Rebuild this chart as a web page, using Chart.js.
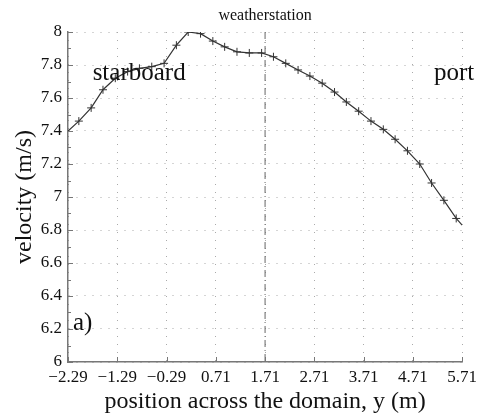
<!DOCTYPE html>
<html>
<head>
<meta charset="utf-8">
<script src="https://cdn.jsdelivr.net/npm/chart.js@4"></script>
<style>
  html, body { margin: 0; padding: 0; background: #fff; }
  #wrap { width: 482px; height: 416px; }
</style>
</head>
<body>
<div id="wrap"><canvas id="chartVelocity"></canvas></div>
<script>
// position across the domain (m) and velocity (m/s)
const positions = [-2.29, -2.07, -1.82, -1.58, -1.33, -1.08, -0.84, -0.59, -0.34, -0.09, 0.15,
    0.40, 0.65, 0.89, 1.14, 1.39, 1.64, 1.88, 2.13, 2.38, 2.62, 2.87, 3.12, 3.36, 3.61,
    3.86, 4.11, 4.35, 4.60, 4.85, 5.09, 5.34, 5.59, 5.71];
const velocity = [7.40, 7.46, 7.54, 7.65, 7.72, 7.76, 7.78, 7.79, 7.81, 7.92, 8.00,
    7.99, 7.945, 7.91, 7.88, 7.873, 7.873, 7.85, 7.81, 7.77, 7.733, 7.69, 7.636, 7.576, 7.52,
    7.46, 7.41, 7.35, 7.28, 7.20, 7.085, 6.98, 6.87, 6.83];
const xTicks = [-2.29, -1.29, -0.29, 0.71, 1.71, 2.71, 3.71, 4.71, 5.71];
const yTicks = [6, 6.2, 6.4, 6.6, 6.8, 7, 7.2, 7.4, 7.6, 7.8, 8];
const stationPos = 1.71;

const serif = "'Liberation Serif', 'DejaVu Serif', serif";

const extras = {
    id: "extras",
    beforeDatasetsDraw(chart) {
        const {ctx, chartArea, scales: {x, y}} = chart;
        const px = x.getPixelForValue(stationPos);
        ctx.save();
        ctx.strokeStyle = "#666";
        ctx.lineWidth = 1;
        ctx.setLineDash([7, 3, 1, 3]);
        ctx.beginPath();
        ctx.moveTo(px, chartArea.top);
        ctx.lineTo(px, chartArea.bottom);
        ctx.stroke();
        ctx.restore();
    },
    afterDraw(chart) {
        const {ctx, chartArea, scales: {x, y}} = chart;
        ctx.save();
        // inward tick marks
        ctx.strokeStyle = "#777";
        ctx.lineWidth = 1;
        ctx.beginPath();
        x.ticks.forEach(t => {
            const p = Math.round(x.getPixelForValue(t.value)) + 0.5;
            ctx.moveTo(p, chartArea.bottom);
            ctx.lineTo(p, chartArea.bottom - 5);
        });
        y.ticks.forEach(t => {
            const p = Math.round(y.getPixelForValue(t.value)) + 0.5;
            ctx.moveTo(chartArea.left, p);
            ctx.lineTo(chartArea.left + 5, p);
        });
        for (let i = 0; i < yTicks.length - 1; i++) {
            const p = Math.round(y.getPixelForValue((yTicks[i] + yTicks[i + 1]) / 2)) + 0.5;
            ctx.moveTo(chartArea.left, p);
            ctx.lineTo(chartArea.left + 3, p);
        }
        ctx.stroke();

        // labels
        ctx.fillStyle = "#111";
        ctx.textBaseline = "middle";
        ctx.textAlign = "left";
        ctx.font = "25px " + serif;
        ctx.fillText("starboard", x.getPixelForValue(-1.79), y.getPixelForValue(7.75));
        ctx.fillText("port", x.getPixelForValue(5.14), y.getPixelForValue(7.75));
        ctx.fillText("a)", x.getPixelForValue(-2.19), y.getPixelForValue(6.236));
        ctx.textAlign = "center";
        ctx.font = "16px " + serif;
        ctx.fillText("weatherstation", x.getPixelForValue(stationPos), chartArea.top - 16);
        ctx.restore();
    }
};

new Chart(document.getElementById("chartVelocity"), {
    type: "scatter",
    data: {
        datasets: [{
            data: positions.map((p, i) => ({x: p, y: velocity[i]})),
            showLine: true,
            borderColor: "#333",
            borderWidth: 1.2,
            pointStyle: "cross",
            pointRadius: ctx => (ctx.dataIndex === 0 || ctx.dataIndex === positions.length - 1) ? 0 : 4,
            pointBorderColor: "#333",
            pointBorderWidth: 1,
            tension: 0
        }]
    },
    options: {
        responsive: true,
        maintainAspectRatio: false,
        animation: false,
        layout: {
            padding: {top: 32, right: 18, left: 0, bottom: 0}
        },
        scales: {
            x: {
                type: "linear",
                min: -2.29,
                max: 5.71,
                afterBuildTicks: scale => {
                    scale.ticks = xTicks.map(v => ({value: v}));
                },
                afterFit: scale => {
                    scale.height = 54;
                },
                grid: {
                    color: "#aaa",
                    drawTicks: false
                },
                border: {
                    color: "#777",
                    width: 1.5,
                    dash: [1, 7]
                },
                ticks: {
                    padding: 5,
                    autoSkip: false,
                    maxRotation: 0,
                    color: "#111",
                    font: {family: serif, size: 17},
                    callback: v => v.toFixed(2).replace("-", "\u2212")
                },
                title: {
                    display: true,
                    text: "position across the domain, y (m)",
                    color: "#111",
                    padding: {top: 0, bottom: 0},
                    font: {family: serif, size: 24}
                }
            },
            y: {
                min: 6,
                max: 8,
                afterBuildTicks: scale => {
                    scale.ticks = yTicks.map(v => ({value: v}));
                },
                afterFit: scale => {
                    scale.width = 68;
                },
                grid: {
                    color: "#aaa",
                    drawTicks: false
                },
                border: {
                    color: "#777",
                    width: 1.5,
                    dash: [1, 7]
                },
                ticks: {
                    padding: 6,
                    color: "#111",
                    font: {family: serif, size: 17},
                    callback: v => String(+v.toFixed(1))
                },
                title: {
                    display: true,
                    text: "velocity (m/s)",
                    color: "#111",
                    padding: {top: 10, bottom: 0},
                    font: {family: serif, size: 24}
                }
            }
        },
        plugins: {
            legend: {display: false},
            tooltip: {enabled: false}
        }
    },
    plugins: [extras]
});
</script>
</body>
</html>
